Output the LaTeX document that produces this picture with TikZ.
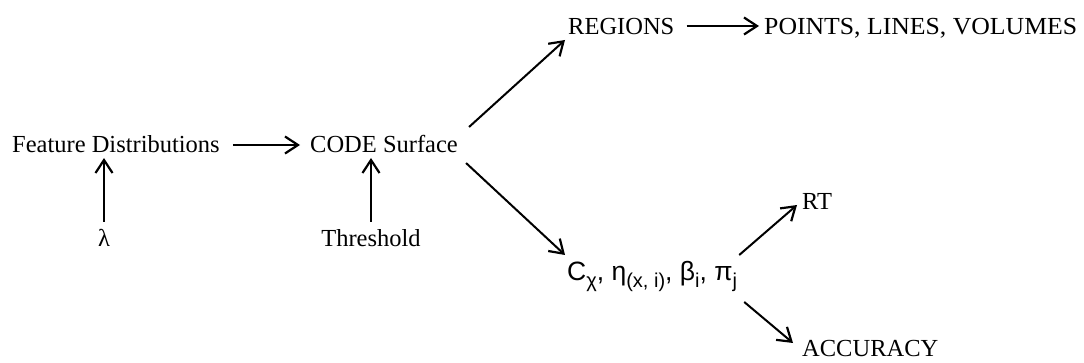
\documentclass[tikz,border=0pt]{standalone}
\usepackage{fontspec}
\setmainfont{Liberation Serif}
\newfontfamily\sansf{Liberation Sans}
\usetikzlibrary{arrows.meta}
\newcommand\mysub[1]{\raisebox{-7pt}{\fontsize{20}{22}\selectfont #1}}
\tikzset{
  lbl/.style={inner sep=0pt, anchor=base west, font=\fontsize{24.5}{28}\selectfont},
  arr/.style={line width=2pt, -{Straight Barb[length=13pt,width=17pt,line width=2.2pt]}}
}
\begin{document}
\begin{tikzpicture}[x=1pt,y=-1pt]
\useasboundingbox (0,0) rectangle (1084,363);
\node[lbl] (fd) at (12,153) {Feature Distributions};
\node[lbl] (code) at (310,153) {CODE Surface};
\node[lbl, anchor=base] (lam) at (104,247) {λ};
\node[lbl, anchor=base] (thr) at (371,247) {Threshold};
\node[lbl] (reg) at (568,35) {REGIONS};
\node[lbl] (pts) at (764,35) {\scalebox{1.05}[1]{POINTS, LINES, VOLUMES}};
\node[lbl, font=\sansf\fontsize{26.5}{28}\selectfont] (c) at (567,280) {C\mysub{χ}, η\mysub{(x, i)}, β\mysub{i}, π\mysub{j}};
\node[lbl] (rt) at (802,210) {RT};
\node[lbl] (acc) at (802,356) {ACCURACY};
\draw[arr] ([shift={(13,-8)}]fd.base east) -- ([shift={(-10,-8)}]code.base west);
\draw[arr] ([shift={(0,-8)}]lam.north) -- ([shift={(0,5)}]lam.north |- fd.base);
\draw[arr] ([shift={(0,-8)}]thr.north) -- ([shift={(0,5)}]thr.north |- code.base);
\draw[arr] ([shift={(11,-26)}]code.base east) -- ([shift={(-3,5)}]reg.base west);
\draw[arr] ([shift={(12,-9)}]reg.base east) -- ([shift={(-5,-9)}]pts.base west);
\draw[arr] ([shift={(8,10)}]code.base east) -- ([shift={(-2,-25)}]c.base west);
\draw[arr] ([shift={(2,-25)}]c.base east) -- ([shift={(-5,-5)}]rt.base west);
\draw[arr] ([shift={(7,22)}]c.base east) -- ([shift={(-9,-13)}]acc.base west);
\end{tikzpicture}
\end{document}
